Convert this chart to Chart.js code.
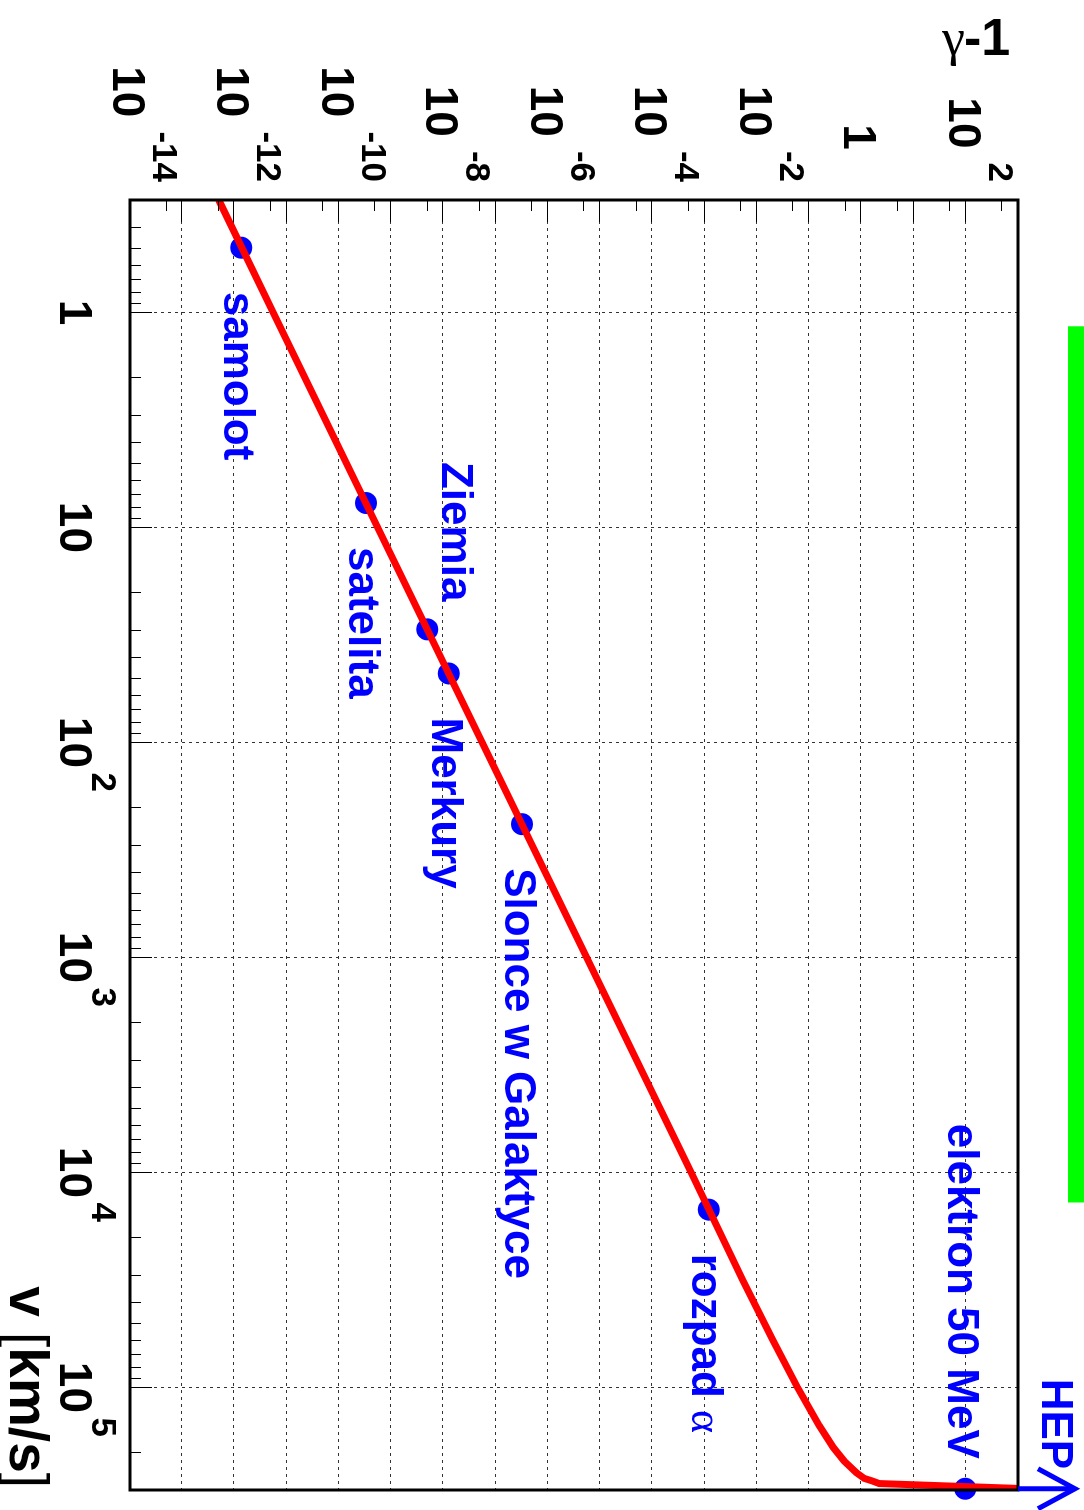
<!DOCTYPE html>
<html><head><meta charset="utf-8">
<script src="https://cdn.jsdelivr.net/npm/chart.js@4"></script>
<style>
html,body{margin:0;padding:0;background:#fff;width:1084px;height:1510px;overflow:hidden;}
#wrap{position:absolute;left:0;top:0;width:1510px;height:1084px;transform-origin:0 0;transform:translate(1084px,0) rotate(90deg);}
canvas{display:block;}
</style></head><body>
<div id="wrap"><canvas id="c" width="1510" height="1084"></canvas></div>
<script>
// ---- data ----
const curveV = [0.3, 1, 10, 100, 1000, 10000, 31800, 60000, 100000, 150000, 190000, 220000, 249000, 265000, 272000, 280000, 295000];
const curveG = [5.0e-13, 5.5e-12, 5.5e-10, 5.5e-8, 5.5e-6, 5.5e-4, 5.4e-3, 0.02, 0.06, 0.155, 0.29, 0.47, 0.8, 1.14, 1.6, 2.2, 1000];
const pointNames = ['samolot', 'satelita', 'Ziemia', 'Merkury', 'Slonce w Galaktyce', 'rozpad α', 'elektron 50 MeV'];
const pointV = [0.5, 7.7, 29.8, 47.8, 240, 14900, 296000];
const pointG = [1.35e-12, 3.3e-10, 4.9e-9, 1.27e-8, 3.2e-7, 1.2e-3, 98];
const gammaTickExps = [-14, -12, -10, -8, -6, -4, -2, 0, 2];
const vTickExps = [0, 1, 2, 3, 4, 5];
const greenBandV = [1.16, 13800];
const xTitle = 'v [km/s]';
const yTitleGreek = 'γ';
const yTitleRest = '-1';
const arrowText = 'HEP';

// ---- layout (separate from data) ----
const labelLayout = [
  {dx: 44, dy: 17, align: 'left'},
  {dx: 44, dy: 17, align: 'left'},
  {dx: -28, dy: -15, align: 'right'},
  {dx: 44, dy: 17, align: 'left'},
  {dx: 44, dy: 17, align: 'left'},
  {dx: 44, dy: 17, align: 'left'},
  {dx: -30, dy: 17, align: 'right'}
];
const SANS = '"Liberation Sans", Arial, Helvetica, sans-serif';
const SERIF = '"Liberation Serif", "Times New Roman", serif';
const BLUE = '#0000ff';

function isGreek(ch){ return /[\u0370-\u03ff]/.test(ch); }
function runs(text){
  const out = [];
  for (const ch of text){
    const g = isGreek(ch);
    if (out.length && out[out.length-1].g === g) out[out.length-1].t += ch;
    else out.push({t: ch, g});
  }
  return out;
}
function drawMixed(ctx, text, x, y, align, size){
  const rs = runs(text);
  let total = 0;
  rs.forEach(r => { ctx.font = r.g ? (size + 'px ' + SERIF) : ('bold ' + size + 'px ' + SANS); r.w = ctx.measureText(r.t).width; total += r.w; });
  let cx = align === 'right' ? x - total : x;
  ctx.textAlign = 'left';
  rs.forEach(r => { ctx.font = r.g ? (size + 'px ' + SERIF) : ('bold ' + size + 'px ' + SANS); ctx.fillText(r.t, cx, y); cx += r.w; });
}
function seg(ctx, x1, y1, x2, y2){ ctx.beginPath(); ctx.moveTo(x1, y1); ctx.lineTo(x2, y2); ctx.stroke(); }

const rootPlugin = {
  id: 'rootStyle',
  beforeDatasetsDraw(chart){
    const {ctx, chartArea: a, scales: {x, y}} = chart;
    ctx.save();
    // green band
    ctx.fillStyle = '#00ff00';
    const g0 = x.getPixelForValue(greenBandV[0]), g1 = x.getPixelForValue(greenBandV[1]);
    ctx.fillRect(g0, 0, g1 - g0, 16);
    // dotted grid
    ctx.strokeStyle = '#333'; ctx.lineWidth = 1; ctx.setLineDash([3, 4]);
    for (let e = -13; e <= 2; e++){
      const py = Math.round(y.getPixelForValue(Math.pow(10, e))) + 0.5;
      seg(ctx, a.left, py, a.right, py);
    }
    for (let e = 0; e <= 5; e++){
      const px = Math.round(x.getPixelForValue(Math.pow(10, e))) + 0.5;
      seg(ctx, px, a.top, px, a.bottom);
    }
    ctx.restore();
  },
  afterDatasetsDraw(chart){
    const {ctx, chartArea: a, scales: {x, y}} = chart;
    ctx.save();
    ctx.setLineDash([]);
    ctx.strokeStyle = '#000'; ctx.lineWidth = 1;
    // v-axis ticks (bottom, pointing into plot)
    for (let e = -1; e <= 5; e++){
      for (let m = 1; m <= 9; m++){
        const v = m * Math.pow(10, e);
        if (v < x.min || v > x.max) continue;
        const px = Math.round(x.getPixelForValue(v)) + 0.5;
        seg(ctx, px, a.bottom, px, a.bottom - (m === 1 ? 22 : 11));
      }
    }
    // gamma-axis ticks (left, pointing into plot)
    for (let e = -14; e <= 2; e++){
      [1, 5].forEach(m => {
        const g = m * Math.pow(10, e);
        if (g < y.min || g > y.max) return;
        const py = Math.round(y.getPixelForValue(g)) + 0.5;
        seg(ctx, a.left, py, a.left + (m === 1 ? 22 : 11), py);
      });
    }
    // frame
    ctx.lineWidth = 3;
    ctx.strokeRect(a.left, a.top, a.right - a.left, a.bottom - a.top);

    // gamma tick labels
    ctx.fillStyle = '#000'; ctx.textBaseline = 'alphabetic';
    const lr = a.left - 18;
    gammaTickExps.forEach(e => {
      const py = y.getPixelForValue(Math.pow(10, e));
      if (e === 0){
        ctx.font = 'bold 46px ' + SANS; ctx.textAlign = 'center';
        ctx.fillText('1', a.left - 63, py + 17);
        return;
      }
      const es = String(e);
      ctx.font = 'bold 35px ' + SANS; ctx.textAlign = 'right';
      ctx.fillText(es, lr, py - 23);
      const ew = ctx.measureText(es).width;
      ctx.font = 'bold 46px ' + SANS;
      ctx.fillText('10', lr - ew - 14, py + 17);
    });
    // v tick labels
    vTickExps.forEach(e => {
      const px = x.getPixelForValue(Math.pow(10, e));
      const by = a.bottom + 70;
      ctx.font = 'bold 46px ' + SANS; ctx.textAlign = 'center';
      ctx.fillText(e === 0 ? '1' : '10', px, by);
      if (e >= 2){
        ctx.font = 'bold 35px ' + SANS; ctx.textAlign = 'left';
        ctx.fillText(String(e), px + 30, by - 32);
      }
    });
    // x title: v [km/s]
    {
      const parts = [{t: 'v ', b: true}, {t: '[', b: false}, {t: 'km/s', b: true}, {t: ']', b: false}];
      let tot = 0;
      parts.forEach(p => { ctx.font = (p.b ? 'bold ' : '') + '55px ' + SANS; p.w = ctx.measureText(p.t).width; tot += p.w; });
      let cx = a.right - 2 - tot;
      ctx.textAlign = 'left';
      parts.forEach(p => { ctx.font = (p.b ? 'bold ' : '') + '55px ' + SANS; ctx.fillText(p.t, cx, a.bottom + 120); cx += p.w; });
    }
    // y title (upright on the page)
    {
      ctx.save();
      ctx.translate(55, a.bottom - 812);
      ctx.rotate(-Math.PI / 2);
      ctx.textAlign = 'left';
      ctx.font = '52px ' + SERIF;
      const gw = ctx.measureText(yTitleGreek).width;
      ctx.fillText(yTitleGreek, 0, 0);
      ctx.font = 'bold 52px ' + SANS;
      ctx.fillText(yTitleRest, gw - 1, 0);
      ctx.restore();
    }
    // point labels
    ctx.fillStyle = BLUE;
    pointNames.forEach((name, i) => {
      const px = x.getPixelForValue(pointV[i]), py = y.getPixelForValue(pointG[i]);
      const L = labelLayout[i];
      drawMixed(ctx, name, px + L.dx, py + L.dy, L.align, 44);
    });
    // HEP arrow
    {
      const ex = x.getPixelForValue(pointV[pointV.length - 1]);
      ctx.strokeStyle = BLUE; ctx.lineWidth = 5; ctx.lineCap = 'butt';
      seg(ctx, ex, a.top, ex, 9);
      ctx.beginPath(); ctx.moveTo(ex - 20, 46); ctx.lineTo(ex, 9); ctx.lineTo(ex + 20, 46); ctx.stroke();
      ctx.font = 'bold 44px ' + SANS; ctx.textAlign = 'left';
      ctx.fillText(arrowText, ex - 110, a.top - 24);
    }
    ctx.restore();
  }
};

new Chart(document.getElementById('c'), {
  type: 'scatter',
  data: {
    datasets: [
      {
        label: 'gamma-1',
        data: curveV.map((v, i) => ({x: v, y: curveG[i]})),
        showLine: true,
        borderColor: '#ff0000',
        borderWidth: 7,
        pointRadius: 0,
        tension: 0,
        order: 0
      },
      {
        label: 'objects',
        data: pointV.map((v, i) => ({x: v, y: pointG[i]})),
        pointRadius: 11,
        pointBackgroundColor: BLUE,
        pointBorderWidth: 0,
        backgroundColor: BLUE,
        borderColor: BLUE,
        clip: false,
        order: 1
      }
    ]
  },
  options: {
    responsive: false,
    devicePixelRatio: 1,
    animation: false,
    layout: {padding: {left: 200, right: 20, top: 66, bottom: 130}},
    plugins: {legend: {display: false}, tooltip: {enabled: false}},
    scales: {
      x: {type: 'logarithmic', min: 0.3, max: 3e5, display: false},
      y: {type: 'logarithmic', min: 1e-14, max: 1e3, display: false}
    }
  },
  plugins: [rootPlugin]
});
</script>
</body></html>
